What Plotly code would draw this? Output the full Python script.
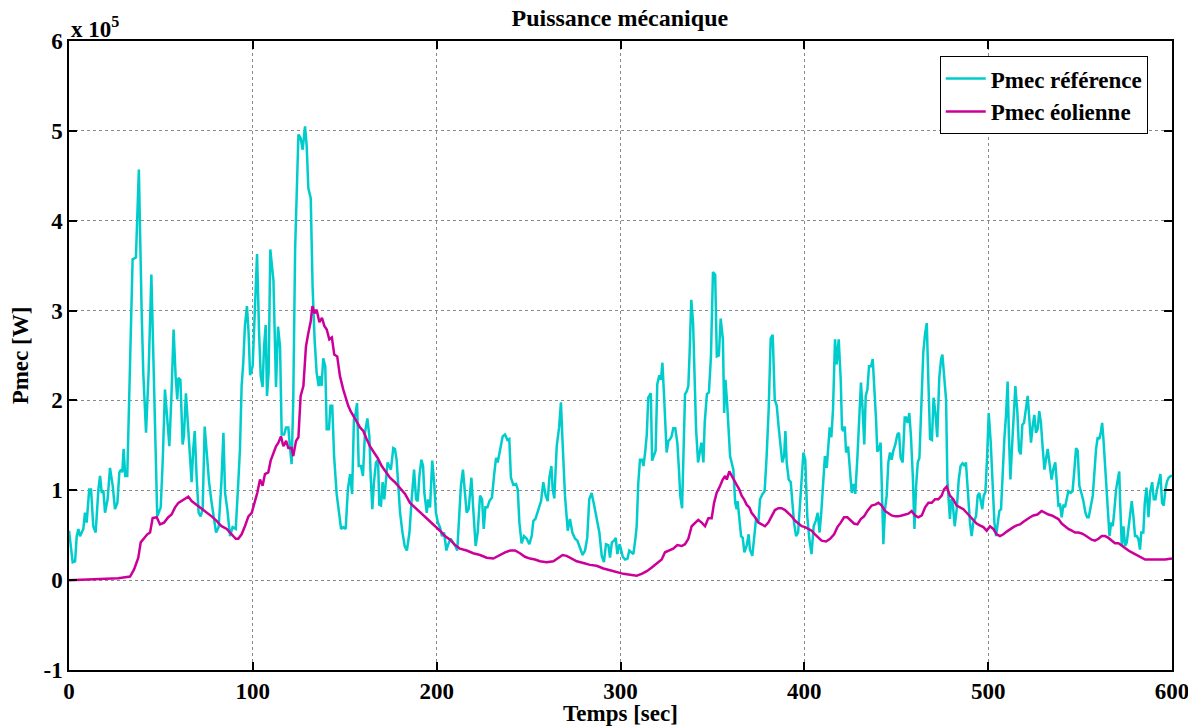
import plotly.graph_objects as go

# Time (s) and power (x 10^5 W)
t_ref = [0, 2, 3.3, 4.2, 5.1, 6, 7.8, 8.7, 9.6, 11, 12, 13.2, 14.5, 16, 16.9, 17.8, 18.7, 19.6, 21, 22.3,
         23.8, 25, 26.3, 27.4, 28.3, 29, 29.7, 30.6, 31.7, 32.6, 33.5, 34.6, 36.4, 38, 39.5, 40.4, 41.9, 43.3,
         44.8, 45.9, 47.1, 48, 49.9, 51, 52.2, 53.5, 54.6, 55.8, 56.9, 58, 58.9, 59.5, 60.6, 61.8, 62.5, 63.6,
         64.5, 65.8, 66.7, 67.6, 68.4, 69.4, 70.5, 71.6, 72.7, 73.8, 74.9, 76.2, 77.6, 78.9, 80, 81.4, 82.9,
         84, 84.9, 86.1, 87.6, 89, 90.7, 92.1, 93, 93.9, 94.8, 95.7, 96.8, 97.7, 98.5, 99.9, 101, 102.3, 103.4,
         104.3, 105.3, 106.1, 107, 107.7, 108.6, 109.5, 111.2, 111.7, 112.6, 113.7,
         114.8, 115.7, 117, 118.1, 119.3, 120.3, 121.1, 122, 123, 124.8, 126, 127.1, 128.4, 129.3, 130.2, 131.5,
         132.5, 133.6, 134.7, 135.8, 136.5, 137.4, 138.3, 139.4, 140.2, 141.4, 142.2, 143.2, 144.2, 145.6,
         146.9, 148, 149.2, 150.5, 151.7, 152.9, 154, 155, 155.9, 156.7, 157.6, 158.8, 159.9, 161, 162.3,
         163.4, 164.1, 165, 165.9, 167, 168.1, 168.8, 169.7, 170.6, 171.5, 172.4, 173.3, 174.2, 175.1, 176.4,
         177.3, 178.2, 179.2, 180.1, 181.4, 182.6, 183.8, 185.2, 186.4, 187.7, 188.8, 189.7, 190.6, 191.7,
         192.6, 193.3, 194.6, 195.4, 196.4, 197.6, 198.6, 199.6, 200.7, 201.8, 202.9, 204, 205.3, 206.3, 207.6,
         209.1, 210.2, 211.2, 212.3, 213.2, 214.3, 215.2, 216.3, 217.4, 218.9, 219.9, 221.2, 222.3, 223.6,
         224.7, 225.6, 226.5, 227.6, 228.7, 230.1, 231.2, 232.3, 233.2,
         235.9, 237.2, 238.5, 239.5, 240.4, 241.7, 243.2, 244.1, 245, 246.2, 247.5, 249, 250.4, 251.7, 252.6,
         253.7, 254.8, 255.9, 256.8, 258, 259.3, 260.4, 261.3, 262.4, 263.1, 264, 265.3, 266.6, 267.6, 268.5,
         269.8, 271.3, 272.5, 273.8, 275.3, 276.5, 278, 279.4, 280.7, 281.9, 283, 284.3, 285.6, 287, 288.5,
         289.8, 291, 292.1, 293.4, 294.3, 295.3, 296.5, 297.4, 298.3, 299.5, 300.3, 301.2, 302.5, 303.8, 304.8,
         305.9, 307, 308.1, 308.8, 309.7, 310.6, 311.7, 312.5, 313.4, 314.3, 315.1, 315.8, 316.5, 317.2, 318.3,
         319.1, 320, 321.1, 322, 322.8, 323.7, 324.4, 325.1, 326.1, 327, 327.8, 328.7, 329.8, 330.9, 331.8,
         332.5, 333.5, 334.2, 335.1, 336, 336.9, 337.6, 338.5, 339.5, 340.4, 341.1, 342.2, 343.2, 344, 345.1,
         345.8, 347, 348.1, 349.2, 350.3, 351.5, 352.4, 353.5, 354.5, 355.7, 356.4, 357.1, 358,
         359.6, 361.4, 362.4, 363.2, 363.7, 364.6, 365.6, 366.5, 367.4, 368.6, 369.7, 370.4, 371.7, 372.8,
         373.7, 375, 375.9, 377.3, 378.4, 379.5, 380.6, 381.7, 382.8, 383.9, 385, 386, 387.2, 388, 389, 389.7,
         390.4, 391.5, 392.6, 393.7, 394.4, 395.5, 396.6, 397.7, 398.6, 399.5, 400.5, 401.6, 402.7, 403.9,
         405.1, 406.2, 407.3, 408.3, 409.2, 410.4, 411.2, 412.2, 413.1, 413.8, 414.7, 415.6, 416.7, 417.6,
         418.7, 419.8, 420.5, 421.2, 422, 422.7, 423.8, 424.8, 425.8, 426.7, 427.7, 428.9, 429.9, 430.8, 431.7,
         432.6, 433.4, 434.3, 435.2, 436.3, 437.2, 438.1, 439, 439.7, 440.6, 441.5, 442.2, 443, 443.9, 444.8,
         445.7, 446.6, 447.5, 448.4, 449.5, 450.6, 451.5, 452.4, 453.5, 454.6, 455.3, 456.2, 457.1, 458, 459,
         459.9, 460.8, 461.7, 462.6, 463.7, 464.7, 465.7, 466.6, 467.5, 468.4, 469.4, 470.3, 471.3, 472.3,
         473.4, 474.4, 475.1, 476, 477.1,
         477.8, 478.5, 479.2, 479.9, 480.7, 481.8, 482.9, 484, 485, 486.1, 487.2, 487.9, 488.8, 490.1, 491,
         491.9, 493.4, 494.3, 495.2, 496.1, 496.8, 497.6, 498.5, 499.4, 500.3, 501.4, 502.3, 503.4, 504.3,
         505.2, 506.1, 507, 507.9, 508.8, 509.7, 510.6, 511.3, 512.1, 513, 513.9, 514.8, 515.9, 516.8, 517.7,
         518.6, 519.5, 520.4, 521.5, 522.4, 523.3, 524.2, 525.1, 526, 526.9, 527.8, 528.7, 529.6, 530.6, 531.4,
         532.4, 533.3, 534.5, 535.4, 536.5, 537.3, 538.2, 539.1, 540, 540.9, 541.8, 542.7, 543.6, 544.9, 545.9,
         546.9, 547.8, 548.7, 549.6, 550.7, 551.8, 552.9, 553.8, 554.7, 555.8, 556.9, 557.8, 558.7, 559.6,
         560.5, 561.4, 562, 562.7, 563.4, 564.1, 565.1, 566, 566.9, 567.8, 568.7, 569.6, 570.5, 571.3, 571.8,
         572.7, 573.6, 574.5, 575.4, 576.3, 577.2, 578.1, 579, 579.9, 580.8, 581.7, 582.6, 583.3, 584.4, 585.2,
         586.1, 587.2, 588.1, 589.2, 590.1, 591, 591.9, 592.8, 593.7, 594.6, 595.5, 596.4, 597.3, 598.2,
         599.3, 600]
p_ref = [0.55, 0.2, 0.21, 0.49, 0.57, 0.49, 0.57, 0.75, 0.64, 1.01, 1.01, 0.6, 0.53, 1.01, 1.16, 0.97, 1.0, 0.75,
         0.9, 1.25, 1.05, 0.79, 0.86, 1.2, 1.23, 1.2, 1.46, 1.16, 1.16, 1.83, 2.75, 3.57, 3.59, 4.57, 3.01, 2.31,
         1.64, 2.31, 3.4, 2.38, 1.27, 0.71, 0.81, 1.34, 2.12, 1.79, 1.49, 2.09, 2.79, 2.27, 2.01, 2.25, 2.23,
         1.51, 1.6, 2.08, 1.79, 1.27, 1.09, 1.46, 1.66, 1.16, 0.75, 0.71, 0.79, 1.71, 1.42, 1.09, 0.86, 0.68,
         0.53, 0.59, 1.09, 1.64, 0.97, 0.79, 0.49, 0.59, 0.57, 1.09, 1.46, 2.16, 2.42, 2.83, 3.05, 2.75, 2.28,
         2.38, 3.05, 3.63, 2.75, 2.27, 2.15, 2.6, 2.84, 2.05, 2.31, 3.68, 3.34, 2.75, 2.15, 2.82,
         2.6, 1.62, 1.62, 1.70, 1.70, 1.46, 1.29, 2.01, 3.68, 4.96, 4.92, 4.79, 5.05, 4.83, 4.36, 4.25, 3.27,
         2.68, 2.31, 2.16, 2.27, 2.16, 2.47, 2.38, 1.68, 1.68, 1.94, 1.94, 1.38, 0.96, 0.75, 0.57, 0.59, 0.57,
         1.01, 1.18, 0.96, 1.79, 1.86, 1.97, 1.27, 1.27, 1.16, 1.64, 1.80, 1.6, 1.16, 0.79, 1.09, 1.31, 1.34,
         0.84, 0.83, 1.09, 0.9, 1.16, 1.31, 1.27, 1.23, 1.47, 1.46, 1.34, 1.01, 0.75, 0.53, 0.38, 0.33, 0.53,
         0.9, 1.23, 0.9, 0.88, 1.16, 1.34, 1.27, 0.97, 0.75, 0.9, 0.81, 1.33, 1.09, 0.75, 0.64, 0.59, 0.49,
         0.53, 0.33, 0.40, 0.46, 0.42, 0.38, 0.33, 0.71, 1.05, 1.23, 0.97, 0.75, 0.79, 1.14, 0.79, 0.38, 0.53,
         0.94, 0.9, 0.57, 0.81, 0.81, 0.88, 0.92, 1.16, 1.36, 1.31,
         1.60, 1.62, 1.56, 1.57, 1.14, 1.06, 1.07, 1.01, 0.64, 0.41, 0.49, 0.46, 0.40, 0.49, 0.66, 0.68, 0.76,
         0.84, 0.88, 1.09, 0.94, 0.88, 1.14, 1.27, 1.01, 0.91, 1.49, 1.70, 1.98, 1.53, 0.94, 0.55, 0.68, 0.53,
         0.46, 0.44, 0.36, 0.28, 0.33, 0.47, 0.90, 0.97, 0.84, 0.68, 0.53, 0.27, 0.20, 0.40, 0.39, 0.25, 0.42,
         0.44, 0.47, 0.29, 0.40, 0.34, 0.26, 0.23, 0.24, 0.33, 0.31, 0.29, 0.46, 0.60, 1.09, 1.34, 1.34, 1.27,
         1.42, 1.62, 2.03, 2.05, 2.08, 1.33, 1.40, 1.44, 2.18, 2.28, 2.23, 2.42, 2.05, 1.70, 1.42, 1.55, 1.57,
         1.60, 1.69, 1.69, 1.53, 1.23, 0.94, 0.80, 1.38, 2.07, 2.10, 2.16, 2.53, 3.12, 2.86, 2.16, 1.68, 1.31,
         1.42, 1.53, 1.31, 1.75, 2.07, 2.09, 2.49, 3.43, 3.40, 2.49, 2.50, 2.91, 2.68, 1.86, 2.23, 1.97,
         1.38, 1.23, 0.86, 0.79, 0.88, 0.71, 0.49, 0.47, 0.31, 0.38, 0.51, 0.34, 0.27, 0.49, 0.68, 0.64, 0.90,
         0.96, 0.99, 1.38, 1.90, 2.69, 2.73, 2.01, 1.94, 1.71, 1.49, 1.31, 1.38, 1.66, 1.31, 1.12, 1.09, 0.79,
         0.64, 0.49, 0.53, 0.86, 1.16, 1.42, 1.34, 0.71, 0.46, 0.29, 0.60, 0.66, 0.75, 0.53, 0.75, 1.09, 1.38,
         1.25, 1.55, 1.70, 1.59, 1.90, 2.68, 2.40, 2.68, 2.23, 1.68, 1.66, 1.71, 1.42, 1.49, 1.23, 0.97, 1.07,
         0.96, 1.38, 1.90, 2.20, 1.90, 1.51, 2.05, 2.12, 2.38, 2.38, 2.46, 2.16, 1.79, 1.43, 1.46, 1.53, 1.01,
         0.40, 0.79, 0.94, 1.31, 1.42, 1.34, 1.44, 1.51, 1.62, 1.64, 1.36, 1.31, 1.81, 1.81, 1.75, 1.86, 1.60,
         1.16, 0.57, 1.05, 1.31, 1.36, 2.09, 2.53, 2.75, 2.86, 2.20, 1.57, 1.56, 2.03, 1.86, 1.59, 2.25, 2.46,
         2.51, 2.27, 2.01,
         1.12, 0.86, 0.68, 0.90, 0.86, 0.60, 0.79, 1.12, 1.27, 1.30, 1.27, 1.31, 1.01, 0.64, 0.49, 0.64, 0.71,
         0.94, 0.97, 0.86, 0.79, 0.94, 0.98, 1.36, 1.86, 1.53, 1.09, 0.64, 0.49, 0.64, 0.77, 0.79, 1.23, 1.57,
         1.83, 2.21, 1.60, 1.12, 1.49, 1.79, 2.16, 1.86, 1.44, 1.40, 1.73, 1.75, 1.90, 2.05, 1.79, 1.53, 1.71,
         1.84, 1.64, 1.68, 1.88, 1.75, 1.49, 1.23, 1.34, 1.46, 1.31, 1.12, 1.23, 1.31, 1.09, 0.83, 0.84, 0.70,
         0.84, 0.81, 0.90, 0.99, 0.97, 0.99, 1.23, 1.47, 1.44, 1.05, 0.97, 0.88, 0.75, 0.70, 0.70, 0.83, 0.94,
         1.20, 1.46, 1.59, 1.57, 1.66, 1.75, 1.57, 1.31, 1.14, 0.83, 0.49, 0.64, 0.60, 0.79, 1.01, 1.12, 1.21,
         0.86, 0.38, 0.60, 0.38, 0.42, 0.57, 0.71, 0.88, 0.71, 0.49, 0.49, 0.46, 0.34, 0.53, 0.53, 0.86, 1.03,
         0.70, 0.97, 1.09, 0.90, 0.90, 1.01, 1.09, 1.18, 0.86, 0.83, 1.01, 1.10, 1.14, 1.16, 1.16]

t_eol = [0, 16.9, 26.8, 29.6, 33.2, 35.4, 37.7, 39, 40.4, 42.6, 44.1, 45.5, 47.7, 49.5, 51.7, 54, 55.8, 57.7,
         59.5, 62.2, 64.9, 66.7, 69.4, 72.2, 74.9, 77.6, 80.3, 83, 85.8, 88.5, 90.7, 92.1, 93.9, 95.7, 97.6,
         99.4, 100.8, 102.4, 103.9, 105.3, 106.6, 108.4, 109.7, 111.2, 112.6, 113.9, 115.3, 116.6,
         118.1, 119.3, 121.1, 122, 123.5, 124.8, 126, 127.5, 128.9, 130.2, 131.5, 132.4, 133.6, 134.7, 136.2,
         137.6, 138.9, 140.2, 141.6, 143, 144.3, 145.9, 147.4, 149.2, 150.7, 151.9, 153.2, 155, 156.9, 158.3,
         160.1, 161.9, 163.7, 165.9, 167.9, 170.1, 172.4, 174.6, 177.3, 180, 182.8, 185.5, 188.2, 190.9, 193.6,
         196.4, 199.1, 201.8, 204.5, 207.3, 210, 212.7, 216.3, 219.9, 223.6, 227.2, 230.8,
         234.4, 237.2, 240, 242.6, 245.3, 248, 250.8, 253.5, 256.2, 259.8, 263.5, 266.2, 268.5, 270.7, 273.4,
         276.2, 279.8, 283.4, 287, 290.7, 294.3, 297.9, 301.6, 305.2, 308.8, 311.5, 314.3, 317, 319.7, 322.4,
         324.2, 326.9, 328.7, 330.9, 333.3, 335.1, 336.9, 338.7, 340.5, 342.3, 344.2, 346, 347.8, 349.6, 350.9,
         352.3, 354.2, 355.6, 356.9, 357.8, 359.2,
         360.5, 361.7, 363.2, 364.6, 365.9, 367.2, 368.6, 370.1, 371.3, 373.2, 375, 376.8, 378.6, 380.4, 382.2,
         384, 385.9, 387.7, 389.5, 391.3, 393.1, 395, 396.8, 398.6, 400.4, 402.2, 404, 405.8, 407.6, 409.4,
         411.8, 414, 416.2, 418, 419.8, 421.6, 423.4, 425.2, 427, 428.9, 430.7, 432.5, 434.3, 436.6, 438.5,
         440.3, 442.1, 443.9, 445.7, 447.5, 449.4, 451.2, 453, 454.8, 456.6, 458.4, 460.2, 462, 463.9, 465.7,
         467.5, 469.3, 471.1, 472.9, 474.7, 476, 477.4,
         479.2, 481, 482.9, 484.7, 486.5, 488.3, 490.1, 491.9, 493.7, 495.5, 497.4, 499.2, 501, 502.8, 504.6,
         506.4, 508.3, 510.1, 511.9, 513.7, 515.5, 517.3, 519.2, 521, 522.8, 524.6, 526.8, 529.1, 530.9, 532.8,
         534.6, 536.4, 538.2, 540, 541.8, 543.6, 545.5, 547.3, 549.1, 550.9, 552.7, 554.5, 556.3, 558.1, 560,
         561.8, 563.6, 565.4, 567.2, 569, 570.9, 572.7, 574.5, 576.3, 578.1, 579.9, 581.7, 583.5, 585.4, 588.1,
         590.8, 593.5, 596.3, 600]
p_eol = [0, 0.01, 0.02, 0.03, 0.04, 0.12, 0.25, 0.42, 0.46, 0.51, 0.53, 0.69, 0.70, 0.62, 0.64, 0.70, 0.73, 0.81,
         0.86, 0.90, 0.93, 0.88, 0.84, 0.79, 0.75, 0.71, 0.66, 0.60, 0.57, 0.51, 0.46, 0.46, 0.51, 0.60, 0.71,
         0.75, 0.84, 0.97, 1.12, 1.05, 1.18, 1.20, 1.33, 1.42, 1.49, 1.53, 1.60, 1.49,
         1.55, 1.47, 1.47, 1.38, 1.55, 1.59, 2.05, 2.16, 2.60, 2.75, 2.88, 3.05, 2.97, 3.01, 2.87, 2.92, 2.83,
         2.79, 2.68, 2.70, 2.51, 2.49, 2.27, 2.12, 2.01, 1.94, 1.88, 1.81, 1.75, 1.70, 1.66, 1.57, 1.49, 1.42,
         1.36, 1.27, 1.20, 1.14, 1.09, 1.03, 0.96, 0.86, 0.81, 0.75, 0.70, 0.65, 0.60, 0.55, 0.49, 0.45, 0.39,
         0.35, 0.33, 0.30, 0.28, 0.25, 0.24,
         0.28, 0.31, 0.33, 0.33, 0.30, 0.26, 0.24, 0.23, 0.21, 0.20, 0.21, 0.25, 0.28, 0.27, 0.24, 0.21, 0.19,
         0.17, 0.16, 0.13, 0.11, 0.09, 0.07, 0.06, 0.05, 0.07, 0.10, 0.14, 0.18, 0.23, 0.31, 0.33, 0.35, 0.39,
         0.38, 0.40, 0.46, 0.60, 0.64, 0.67, 0.64, 0.60, 0.69, 0.69, 0.86, 0.97, 1.05, 1.12, 1.16, 1.12, 1.21,
         1.16, 1.10, 1.06, 1.01, 0.94, 0.90, 0.84, 0.81, 0.75, 0.70, 0.64, 0.62, 0.60, 0.64, 0.71, 0.78, 0.80,
         0.80, 0.78, 0.75, 0.71, 0.66, 0.63, 0.60, 0.59, 0.57, 0.55, 0.51, 0.47, 0.44, 0.43, 0.46, 0.51, 0.59,
         0.64, 0.70, 0.70, 0.66, 0.63, 0.62, 0.68, 0.71, 0.77, 0.83, 0.84, 0.86, 0.83, 0.77, 0.74, 0.72, 0.71,
         0.71, 0.72, 0.73, 0.74, 0.77, 0.72, 0.70, 0.72, 0.81, 0.86, 0.86, 0.90, 0.90, 0.94, 1.01, 1.04,
         0.94, 0.90, 0.83, 0.81, 0.79, 0.75, 0.71, 0.66, 0.63, 0.61, 0.59, 0.55, 0.60, 0.57, 0.51, 0.49, 0.51,
         0.54, 0.57, 0.59, 0.61, 0.62, 0.65, 0.68, 0.70, 0.72, 0.73, 0.77, 0.75, 0.73, 0.72, 0.70, 0.68, 0.63,
         0.60, 0.57, 0.55, 0.53, 0.53, 0.52, 0.50, 0.47, 0.45, 0.44, 0.46, 0.49, 0.49, 0.47, 0.44, 0.41, 0.41,
         0.38, 0.35, 0.33, 0.31, 0.29, 0.27, 0.25, 0.23, 0.23, 0.23, 0.23, 0.23, 0.24]

x_ticks = [0, 100, 200, 300, 400, 500, 600]
y_ticks = [-1, 0, 1, 2, 3, 4, 5, 6]

SERIF = "Liberation Serif"
CYAN = "#00CCCC"
MAGENTA = "#CC0099"

fig = go.Figure()
fig.add_trace(go.Scatter(x=t_ref, y=p_ref, mode="lines", name="<b>Pmec référence</b>",
                         line=dict(color=CYAN, width=2.5)))
fig.add_trace(go.Scatter(x=t_eol, y=p_eol, mode="lines", name="<b>Pmec éolienne</b>",
                         line=dict(color=MAGENTA, width=2.5)))

axis_common = dict(showline=True, linecolor="black", linewidth=1.5, mirror="ticks",
                   ticks="inside", ticklen=8, tickcolor="black", tickwidth=1.5,
                   showgrid=True, gridcolor="#8a8a8a", griddash="dot", gridwidth=1,
                   zeroline=False, automargin=False,
                   tickfont=dict(family=SERIF, size=23, color="black"))

# The page body has an 8 px margin, so the figure is sized to the remaining window
fig.update_layout(
    width=1188, height=718,
    margin=dict(l=61, r=24, t=33, b=56),
    paper_bgcolor="white", plot_bgcolor="white",
    title=dict(text="<b>Puissance mécanique</b>", x=0.515, xanchor="center", y=0.986, yanchor="middle",
               font=dict(family=SERIF, size=24, color="black")),
    xaxis=dict(range=[0, 600], tickvals=x_ticks, ticktext=[f"<b>{v}</b>" for v in x_ticks],
               title=dict(text="<b>Temps [sec]</b>", standoff=0,
                          font=dict(family=SERIF, size=23, color="black")),
               **axis_common),
    yaxis=dict(range=[-1, 6], tickvals=y_ticks, ticktext=[f"<b>{v}</b>" for v in y_ticks],
               title=dict(text="<b>Pmec [W]</b>", standoff=9,
                          font=dict(family=SERIF, size=23, color="black")),
               **axis_common),
    legend=dict(x=0.978, y=0.976, xanchor="right", yanchor="top",
                bgcolor="white", bordercolor="black", borderwidth=1,
                font=dict(family=SERIF, size=23, color="black"),
                tracegroupgap=0, itemwidth=40),
    showlegend=True,
    annotations=[dict(text="<b>x 10<sup>5</sup></b>", xref="paper", yref="paper", x=0, y=1,
                      xanchor="left", yanchor="bottom", showarrow=False, yshift=-3,
                      font=dict(family=SERIF, size=23, color="black"))],
)

fig.write_html("out.html")
